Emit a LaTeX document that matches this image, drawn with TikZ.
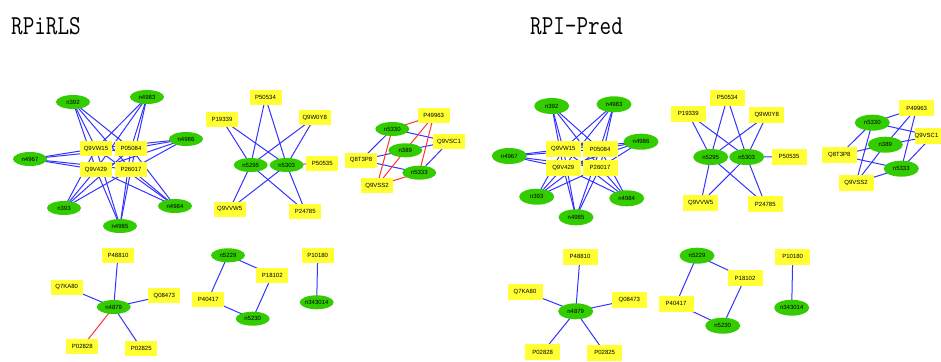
\documentclass[tikz,border=0pt]{standalone}
\usepackage{fontspec}
\newfontfamily\lblfont{Liberation Sans}
\usetikzlibrary{shapes.geometric,backgrounds}
\definecolor{ngreen}{RGB}{51,204,0}
\definecolor{nyellow}{RGB}{255,255,51}
\definecolor{eblue}{RGB}{51,51,255}
\definecolor{ered}{RGB}{255,51,51}
\tikzset{
  ell/.style={ellipse, fill=ngreen, draw=none, minimum width=34pt, minimum height=14pt, inner sep=0pt, font=\lblfont\fontsize{6}{7}\selectfont},
  pbox/.style={rectangle, fill=nyellow, draw=none, minimum width=32pt, minimum height=15pt, inner sep=0pt, font=\lblfont\fontsize{6}{7}\selectfont},
  rell/.style={ell, minimum width=35pt, minimum height=16pt},
  rbox/.style={pbox, minimum width=35pt, minimum height=16pt},
  be/.style={draw=eblue, line width=1pt},
  re/.style={draw=ered, line width=1pt},
  ttl/.style={anchor=base west, inner sep=0pt, font=\fontsize{22.5}{27}\ttfamily}
}
\begin{document}
\begin{tikzpicture}[x=1pt,y=-1pt]
\useasboundingbox (0,0) rectangle (941,361);
\clip (0,0) rectangle (941,361);

\node[ttl] (t1) at (11,34.3) {\scalebox{1}[1.22]{RPiRLS}};
\node[ttl] (t2) at (530,34.3) {\scalebox{1}[1.22]{RPI-Pred}};

% ===== LEFT: RPiRLS =====
% cluster 1
\node[ell] (a392) at (73,102) {n392};
\node[ell] (a4983) at (147,97) {n4983};
\node[ell] (a4986) at (186,139) {n4986};
\node[ell] (a4967) at (30,159) {n4967};
\node[ell] (a393) at (64,208) {n393};
\node[ell] (a4985) at (120,226) {n4985};
\node[ell] (a4984) at (175,206) {n4984};
\node[pbox] (aQ9VW15) at (96,148.5) {Q9VW15};
\node[pbox] (aP05084) at (131,148.5) {P05084};
\node[pbox] (aQ9V429) at (96,169.5) {Q9V429};
\node[pbox] (aP26017) at (131,169.5) {P26017};
% cluster 2
\node[pbox] (aP50534) at (265.5,97.5) {P50534};
\node[pbox] (aP19339) at (222,119.5) {P19339};
\node[pbox] (aQ9W0Y8) at (314.7,117.5) {Q9W0Y8};
\node[ell] (a5295) at (250.7,165) {n5295};
\node[ell] (a5303) at (286.7,165) {n5303};
\node[pbox] (aP50535) at (322.3,163) {P50535};
\node[pbox] (aQ9VVW5) at (229.7,209.3) {Q9VVW5};
\node[pbox] (aP24785) at (305.3,211.3) {P24785};
% cluster 3
\node[ell] (a5330) at (392.3,129) {n5330};
\node[pbox] (aP49963) at (433.7,115.7) {P49963};
\node[pbox] (aQ9VSC1) at (449,141.7) {Q9VSC1};
\node[ell] (a389) at (405.3,150.3) {n389};
\node[pbox] (aQ8T3P8) at (361,160) {Q8T3P8};
\node[ell] (a5333) at (419.3,172.7) {n5333};
\node[pbox] (aQ9VSS2) at (377,185.7) {Q9VSS2};
% cluster 4
\node[pbox] (aP48810) at (118,255) {P48810};
\node[pbox] (aQ7KA80) at (66.7,287.3) {Q7KA80};
\node[pbox] (aQ08473) at (164.3,295.7) {Q08473};
\node[ell] (a4879) at (113.7,307) {n4879};
\node[pbox] (aP02828) at (82.3,346.7) {P02828};
\node[pbox] (aP02825) at (141.3,348.3) {P02825};
% cluster 5
\node[ell] (a5229) at (228,255.3) {n5229};
\node[pbox] (aP18102) at (272.3,275) {P18102};
\node[pbox] (aP40417) at (208.3,299.3) {P40417};
\node[ell] (a5230) at (252.7,318.7) {n5230};
\node[pbox] (aP10180) at (317.7,255) {P10180};
\node[ell] (a343014) at (316.7,302.3) {n343014};

% ===== RIGHT: RPI-Pred =====
\node[rell] (b392) at (551.7,106) {n392};
\node[rell] (b4983) at (614,104.3) {n4983};
\node[rell] (b4986) at (641,141.7) {n4986};
\node[rell] (b4967) at (509.3,156) {n4967};
\node[rell] (b393) at (536.7,196.7) {n393};
\node[rell] (b4985) at (576,217.3) {n4985};
\node[rell] (b4984) at (626.7,198.3) {n4984};
\node[rbox] (bQ9VW15) at (563.3,149) {Q9VW15};
\node[rbox] (bP05084) at (600,149) {P05084};
\node[rbox] (bQ9V429) at (563.3,167.5) {Q9V429};
\node[rbox] (bP26017) at (600,167.5) {P26017};

\node[rbox] (bP50534) at (727.3,97.7) {P50534};
\node[rbox] (bP19339) at (688.3,113.7) {P19339};
\node[rbox] (bQ9W0Y8) at (766.7,115.3) {Q9W0Y8};
\node[rell] (b5295) at (710.7,157) {n5295};
\node[rell] (b5303) at (746.7,157) {n5303};
\node[rbox] (bP50535) at (789,156.7) {P50535};
\node[rbox] (bQ9VVW5) at (700.7,203.3) {Q9VVW5};
\node[rbox] (bP24785) at (765.3,204.3) {P24785};

\node[rell] (b5330) at (872.3,122.7) {n5330};
\node[rbox] (bP49963) at (916.7,108) {P49963};
\node[rbox] (bQ9VSC1) at (932.5,136) {\hspace*{-12pt}Q9VSC1};
\node[rell] (b389) at (885.3,144.7) {n389};
\node[rbox] (bQ8T3P8) at (839.3,155.3) {Q8T3P8};
\node[rell] (b5333) at (901.3,168.7) {n5333};
\node[rbox] (bQ9VSS2) at (856,182.7) {Q9VSS2};

\node[rbox] (bP48810) at (580,256.7) {P48810};
\node[rbox] (bQ7KA80) at (525,291.7) {Q7KA80};
\node[rbox] (bQ08473) at (629.3,300) {Q08473};
\node[rell] (b4879) at (575.7,311.3) {n4879};
\node[rbox] (bP02828) at (542.7,352) {P02828};
\node[rbox] (bP02825) at (604.7,352.5) {P02825};

\node[rell] (b5229) at (697,255.7) {n5229};
\node[rbox] (bP18102) at (745,278) {P18102};
\node[rbox] (bP40417) at (676,303.7) {P40417};
\node[rell] (b5230) at (722.7,325.7) {n5230};
\node[rbox] (bP10180) at (792.7,256.7) {P10180};
\node[rell] (b343014) at (791.7,307.7) {n343014};

% ===== EDGES =====
\begin{pgfonlayer}{background}
\foreach \p in {a,b}{
  \foreach \e in {392,4983,4986,4967,393,4985,4984}{
    \foreach \q in {Q9VW15,P05084,Q9V429,P26017}{
      \draw[be] (\p\e.center) -- (\p\q.center);
    }
  }
  \foreach \e in {5295,5303}{
    \foreach \q in {P50534,P19339,Q9W0Y8,Q9VVW5,P24785}{
      \draw[be] (\p\e.center) -- (\p\q.center);
    }
  }
  \foreach \e in {5330,389,5333}{
    \foreach \q in {Q9VSC1,Q8T3P8}{
      \draw[be] (\p\e.center) -- (\p\q.center);
    }
  }
  \foreach \q in {P48810,Q7KA80,Q08473,P02825}{
    \draw[be] (\p4879.center) -- (\p\q.center);
  }
  \draw[be] (\p5229.center) -- (\p P18102.center);
  \draw[be] (\p5229.center) -- (\p P40417.center);
  \draw[be] (\p P18102.center) -- (\p5230.center);
  \draw[be] (\p P40417.center) -- (\p5230.center);
  \draw[be] (\p P10180.center) -- (\p343014.center);
}
% RPiRLS red edges
\draw[re] (a5303.center) -- (aP50535.center);
\foreach \e in {5330,389,5333}{
  \foreach \q in {P49963,Q9VSS2}{
    \draw[re] (a\e.center) -- (a\q.center);
  }
}
\draw[re] (a4879.center) -- (aP02828.center);
% RPI-Pred blue counterparts
\draw[be] (b5303.center) -- (bP50535.center);
\foreach \e in {5330,389,5333}{
  \foreach \q in {P49963,Q9VSS2}{
    \draw[be] (b\e.center) -- (b\q.center);
  }
}
\draw[be] (b4879.center) -- (bP02828.center);
\end{pgfonlayer}
\end{tikzpicture}
\end{document}
